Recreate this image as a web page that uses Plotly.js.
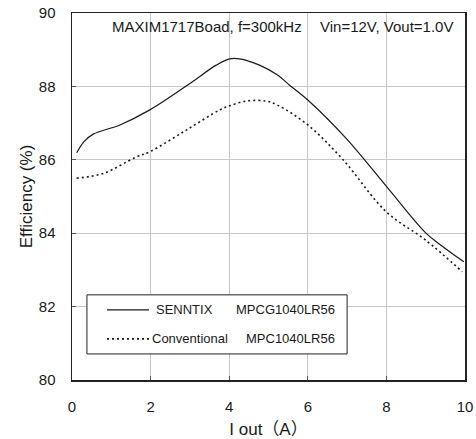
<!DOCTYPE html>
<html>
<head>
<meta charset="utf-8">
<script src="https://cdn.plot.ly/plotly-3.0.1.min.js"></script>
<style>html,body{margin:0;padding:0;background:#fff;}#chart{width:476px;height:439px;}</style>
</head>
<body>
<div id="chart"></div>
<script>
// Data
const senntixX = [0.12, 0.3, 0.54, 1.22, 1.98, 3.0, 3.67, 4.01, 4.26, 4.77, 5.23, 5.53, 6.0, 6.97, 7.99, 9.0, 9.38, 9.97];
const senntixY = [86.19, 86.49, 86.70, 86.95, 87.36, 88.08, 88.58, 88.75, 88.75, 88.58, 88.31, 88.04, 87.63, 86.59, 85.29, 84.01, 83.68, 83.22];
const convX = [0.12, 0.8, 1.62, 1.98, 2.91, 3.76, 4.01, 4.43, 4.94, 5.23, 6.0, 6.89, 7.99, 9.0, 9.93];
const convY = [85.50, 85.63, 86.07, 86.22, 86.81, 87.36, 87.47, 87.60, 87.60, 87.49, 86.95, 86.01, 84.59, 83.81, 82.95];
const xTicks = [0, 2, 4, 6, 8, 10];
const yTicks = [80, 82, 84, 86, 88, 90];
const legendNames = ["SENNTIX", "Conventional"];
const legendParts = ["MPCG1040LR56", "MPC1040LR56"];

const FONT = "Liberation Sans, Arial, sans-serif";
const DOTS = "2px,3px";

const traces = [
  {x: senntixX, y: senntixY, mode: "lines", line: {color: "#1a1a1a", width: 1.2, shape: "spline"}, name: legendNames[0], showlegend: false},
  {x: convX, y: convY, mode: "lines", line: {color: "#1a1a1a", width: 1.6, dash: DOTS, shape: "spline"}, name: legendNames[1], showlegend: false}
];

const layout = {
  width: 476, height: 439,
  margin: {l: 72, r: 11, t: 13, b: 59},
  paper_bgcolor: "#fff", plot_bgcolor: "#fff",
  font: {family: FONT, size: 15, color: "#1a1a1a"},
  xaxis: {
    range: [0, 10], tickvals: xTicks, ticktext: xTicks.map(String),
    showgrid: true, gridcolor: "#c8c8c8", gridwidth: 1,
    showline: true, linecolor: "#222", linewidth: 1.5, mirror: true,
    ticks: "inside", ticklen: 4, tickcolor: "#555",
    zeroline: false, ticklabelstandoff: 12,
    tickfont: {size: 15, family: FONT},
    title: {text: "I out（A）", font: {size: 17, family: "Liberation Sans, Noto Sans CJK JP, sans-serif"}, standoff: 9}
  },
  yaxis: {
    range: [80, 90], tickvals: yTicks, ticktext: yTicks.map(String),
    showgrid: true, gridcolor: "#c8c8c8", gridwidth: 1,
    showline: true, linecolor: "#222", linewidth: 1.5, mirror: true,
    ticks: "inside", ticklen: 4, tickcolor: "#555",
    zeroline: false, ticklabelstandoff: 12,
    tickfont: {size: 15, family: FONT},
    title: {text: "Efficiency (%)", font: {size: 17, family: FONT}, standoff: 2}
  },
  shapes: [
    {type: "rect", xref: "paper", yref: "paper", x0: 0.038, x1: 0.700, y0: 0.071, y1: 0.232,
     line: {color: "#222", width: 1}, fillcolor: "#fff", layer: "above"},
    {type: "line", xref: "paper", yref: "paper", x0: 0.089, x1: 0.196, y0: 0.191, y1: 0.191,
     line: {color: "#1a1a1a", width: 1.2}},
    {type: "line", xref: "paper", yref: "paper", x0: 0.089, x1: 0.196, y0: 0.112, y1: 0.112,
     line: {color: "#1a1a1a", width: 1.6, dash: DOTS}}
  ],
  annotations: [
    {xref: "paper", yref: "paper", x: 0.097, y: 0.962, xanchor: "left", yanchor: "middle", showarrow: false,
     text: "MAXIM1717Boad, f=300kHz", font: {size: 15, family: FONT}},
    {xref: "paper", yref: "paper", x: 0.975, y: 0.962, xanchor: "right", yanchor: "middle", showarrow: false,
     text: "Vin=12V, Vout=1.0V", font: {size: 15, family: FONT}},
    {xref: "paper", yref: "paper", x: 0.209, y: 0.191, xanchor: "left", yanchor: "middle", showarrow: false,
     text: legendNames[0], font: {size: 13, family: FONT}},
    {xref: "paper", yref: "paper", x: 0.674, y: 0.191, xanchor: "right", yanchor: "middle", showarrow: false,
     text: legendParts[0], font: {size: 13, family: FONT}},
    {xref: "paper", yref: "paper", x: 0.198, y: 0.112, xanchor: "left", yanchor: "middle", showarrow: false,
     text: legendNames[1], font: {size: 13, family: FONT}},
    {xref: "paper", yref: "paper", x: 0.674, y: 0.112, xanchor: "right", yanchor: "middle", showarrow: false,
     text: legendParts[1], font: {size: 13, family: FONT}}
  ]
};

Plotly.newPlot("chart", traces, layout, {displayModeBar: false, staticPlot: true});
</script>
</body>
</html>
